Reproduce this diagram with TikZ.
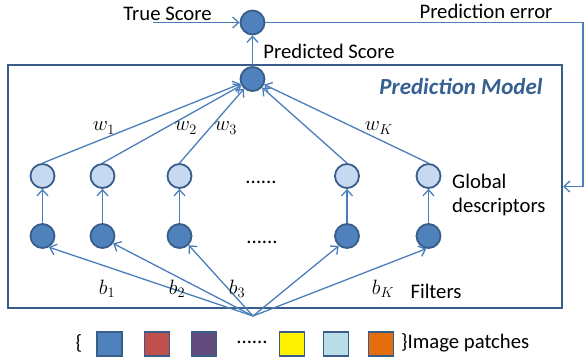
\documentclass[tikz,border=0pt]{standalone}
\usepackage{fontspec}
\setmainfont{Carlito}
\usetikzlibrary{arrows.meta}
\usetikzlibrary{calc}
\definecolor{lineblue}{HTML}{4A7EBB}
\definecolor{nodeblue}{HTML}{4F81BD}
\definecolor{edgeblue}{HTML}{385D8A}
\definecolor{paleblue}{HTML}{C6D9F1}
\definecolor{titleblue}{HTML}{376092}
\definecolor{patchred}{HTML}{C0504D}
\definecolor{patchpurple}{HTML}{604A7B}
\definecolor{patchcyan}{HTML}{B7DEE8}
\definecolor{patchorange}{HTML}{E46C0A}
\newcommand{\lbl}{\fontsize{20.7}{24}\selectfont}

\begin{document}
\begin{tikzpicture}[x=1pt,y=-1pt,
  >={Straight Barb[length=6pt,width=11pt]},
  every node/.style={inner sep=0pt,font=\lbl},
  unit/.style={draw=edgeblue,line width=1.8pt,circle,minimum size=24pt,fill=nodeblue},
  desc/.style={unit,fill=paleblue},
  patch/.style={draw=edgeblue,line width=1.8pt,minimum width=25pt,minimum height=24pt},
  link/.style={->,line width=1.3pt,lineblue}]
\useasboundingbox (0,0) rectangle (586,362);

\node[draw=edgeblue,line width=2pt,minimum width=554pt,minimum height=243pt] (box) at (285,186.5) {};
\node[font=\fontsize{23}{27}\selectfont\bfseries\itshape,text=titleblue] (title) at (461,87) {Prediction Model};

\node[unit] (cmp) at (252.5,22.5) {};
\node[unit] (pred) at (252.5,79) {};
\coordinate (ts) at (153,22.5);
\coordinate (corner) at (583,186.5);
\coordinate (src) at (253,316);

\node[desc] (l1) at (42.5,176) {};
\node[desc] (l2) at (102.5,176) {};
\node[desc] (l3) at (179.5,176) {};
\node[desc] (l4) at (347,176) {};
\node[desc] (l5) at (428.5,176) {};
\node (ldots) at (261,182) {......};

\node[unit] (d1) at (42.5,236) {};
\node[unit] (d2) at (102.5,236) {};
\node[unit] (d3) at (179.5,236) {};
\node[unit] (d4) at (347,236) {};
\node[unit] (d5) at (428.5,236) {};
\node (ddots) at (262,242) {......};

% scores
\node (truth) at (167.5,13.5) {True Score};
\node (err) at (486,11.5) {Prediction error};
\node (score) at (329,51.5) {Predicted Score};
\draw[link] (ts) -- (cmp);
\draw[link] (pred) -- (cmp);
\draw[link] (cmp) -| (corner) -- (box.east);

% weights
\draw[link] (l1.north) -- (pred);
\draw[link] (l2.north) -- (pred);
\draw[link] (l3.north) -- (pred);
\draw[link] (l4.north) -- (pred);
\draw[link] (l5.north) -- (pred);
\node at (104,128) {$w_1$};
\node at (186,128) {$w_2$};
\node at (226,128) {$w_3$};
\node at (379,128) {$w_K$};
\node[align=left,anchor=west] (gd) at (452,195) {Global\\descriptors};

\draw[link] (d1) -- (l1);
\draw[link] (d2) -- (l2);
\draw[link] (d3) -- (l3);
\draw[link] (d4) -- (l4);
\draw[link] (d5) -- (l5);

% filters
\draw[link] (src) -- (d1.-60);
\draw[link] (src) -- (d2.-35);
\draw[link] (src) -- (d3.-45);
\draw[link] (src) -- (d4.-130);
\draw[link] (src) -- (d5.-100);
\node at (107,289) {$b_1$};
\node at (177,289) {$b_2$};
\node at (237,289) {$b_3$};
\node at (383,289) {$b_K$};
\node (filt) at (436,291) {Filters};

% patches
\node (lbrace) at (79,343) {\{};
\node[patch,fill=nodeblue] (p1) at (109.5,344) {};
\node[patch,fill=patchred] (p2) at (157,344) {};
\node[patch,fill=patchpurple] (p3) at (204,344) {};
\node (pdots) at (252,342) {......};
\node[patch,fill=yellow] (p4) at (292,344) {};
\node[patch,fill=patchcyan] (p5) at (336,344) {};
\node[patch,fill=patchorange] (p6) at (381,344) {};
\node[anchor=west] (patches) at (401,343) {\}Image patches};
\end{tikzpicture}
\end{document}
